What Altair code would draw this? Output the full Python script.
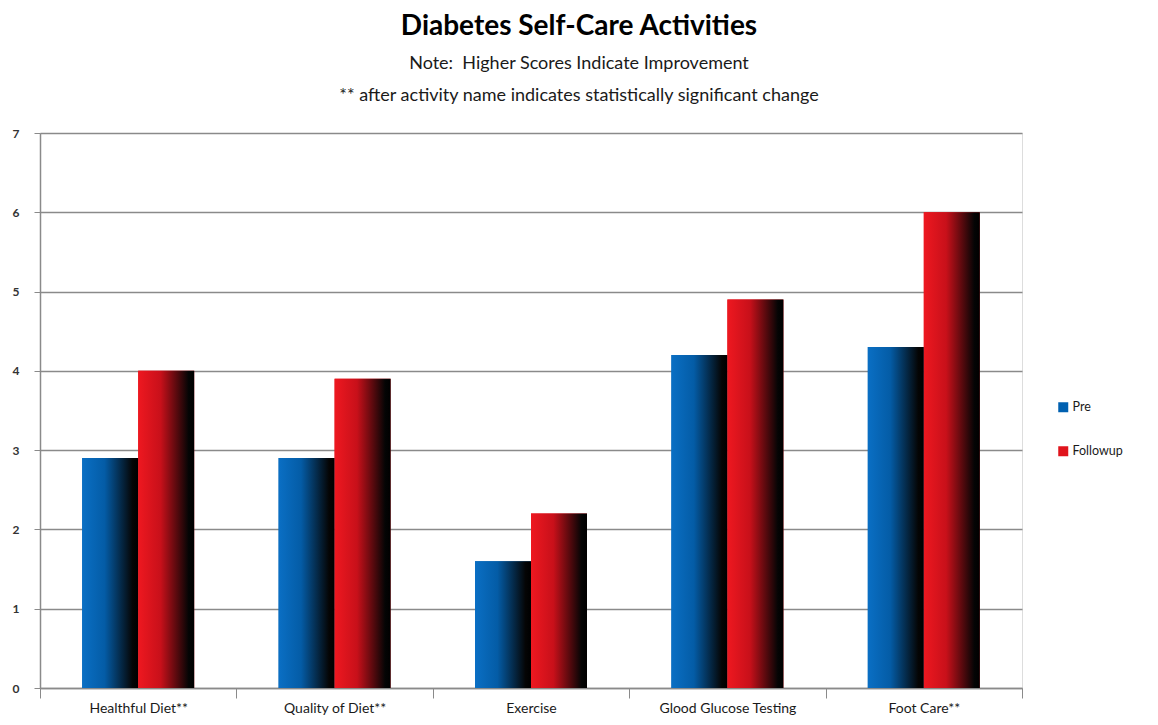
import altair as alt
import pandas as pd

categories = ["Healthful Diet**", "Quality of Diet**", "Exercise", "Glood Glucose Testing", "Foot Care**"]
series_names = ["Pre", "Followup"]
pre_values = [2.9, 2.9, 1.6, 4.2, 4.3]
followup_values = [4.0, 3.9, 2.2, 4.9, 6.0]
y_ticks = [0, 1, 2, 3, 4, 5, 6, 7]

rows = []
for c, p, f in zip(categories, pre_values, followup_values):
    rows.append({"activity": c, "series": "Pre", "score": p})
    rows.append({"activity": c, "series": "Followup", "score": f})
df = pd.DataFrame(rows)

FONT = "Lato"
BLUE = "#0A6FC4"
RED = "#EE1820"
AXIS_GRAY = "#8a8a8a"

x_enc = alt.X(
    "activity:N",
    sort=categories,
    title=None,
    scale=alt.Scale(paddingInner=0, paddingOuter=0),
    axis=alt.Axis(
        labelAngle=0, labelFontSize=14, labelColor="#1a1a1a", labelFont=FONT,
        labelPadding=3, tickBand="extent", tickSize=10, tickColor=AXIS_GRAY,
        domainColor=AXIS_GRAY, domainWidth=1.5, labelLimit=220,
    ),
)
xoff_enc = alt.XOffset("series:N", sort=series_names,
                       scale=alt.Scale(domain=series_names, paddingInner=0, paddingOuter=0.7536))
y_enc = alt.Y(
    "score:Q",
    title=None,
    scale=alt.Scale(domain=[0, 7], nice=False),
    axis=alt.Axis(
        values=y_ticks, format="d", labelFontSize=12, labelFontWeight="bold",
        labelColor="#333333", labelFont=FONT, labelPadding=15,
        tickSize=6, tickColor=AXIS_GRAY, domainColor=AXIS_GRAY, domainWidth=1.5,
        gridColor=AXIS_GRAY, gridWidth=1.3,
    ),
)

base = alt.Chart(df).mark_bar().encode(
    x=x_enc,
    xOffset=xoff_enc,
    y=y_enc,
    color=alt.Color(
        "series:N",
        sort=series_names,
        scale=alt.Scale(domain=series_names, range=["#0060B0", "#E0141C"]),
        legend=alt.Legend(
            title=None, orient="none", legendX=1017, legendY=268,
            symbolType="square", symbolSize=100, symbolStrokeWidth=0,
            labelFontSize=12.5, labelFont=FONT, labelColor="#1a1a1a",
            rowPadding=31, labelOffset=3,
        ),
    ),
)


def grad(color, mid):
    return alt.LinearGradient(
        gradient="linear", x1=0, y1=0, x2=1, y2=0,
        stops=[
            alt.GradientStop(offset=0, color=color),
            alt.GradientStop(offset=0.4, color=mid),
            alt.GradientStop(offset=0.9, color="#050505"),
            alt.GradientStop(offset=1, color="#000000"),
        ],
    )


pre_layer = alt.Chart(df).transform_filter(alt.datum.series == "Pre").mark_bar(
    color=grad(BLUE, "#045CA6")
).encode(x=x_enc, xOffset=xoff_enc, y=y_enc)

fol_layer = alt.Chart(df).transform_filter(alt.datum.series == "Followup").mark_bar(
    color=grad(RED, "#C8101A")
).encode(x=x_enc, xOffset=xoff_enc, y=y_enc)

chart = alt.layer(base, pre_layer, fol_layer).properties(
    width=982,
    height=555,
    padding={"left": 40, "top": 133, "right": 136, "bottom": 37},
    autosize=alt.AutoSizeParams(type="none"),
    title=alt.TitleParams(
        text="Diabetes Self-Care Activities",
        subtitle=["Note:\u00a0 Higher Scores Indicate Improvement",
                  "** after activity name indicates statistically significant change"],
        anchor="middle", frame="group", dx=48, font=FONT, fontSize=28, fontWeight="bold",
        color="#000000", subtitleFont=FONT, subtitleFontSize=18, subtitleColor="#1a1a1a",
        subtitlePadding=14, subtitleLineHeight=32, offset=22,
    ),
).configure_view(stroke=None).configure(background="white")

chart.save("out.html", embed_options={"renderer": "svg", "actions": False})
